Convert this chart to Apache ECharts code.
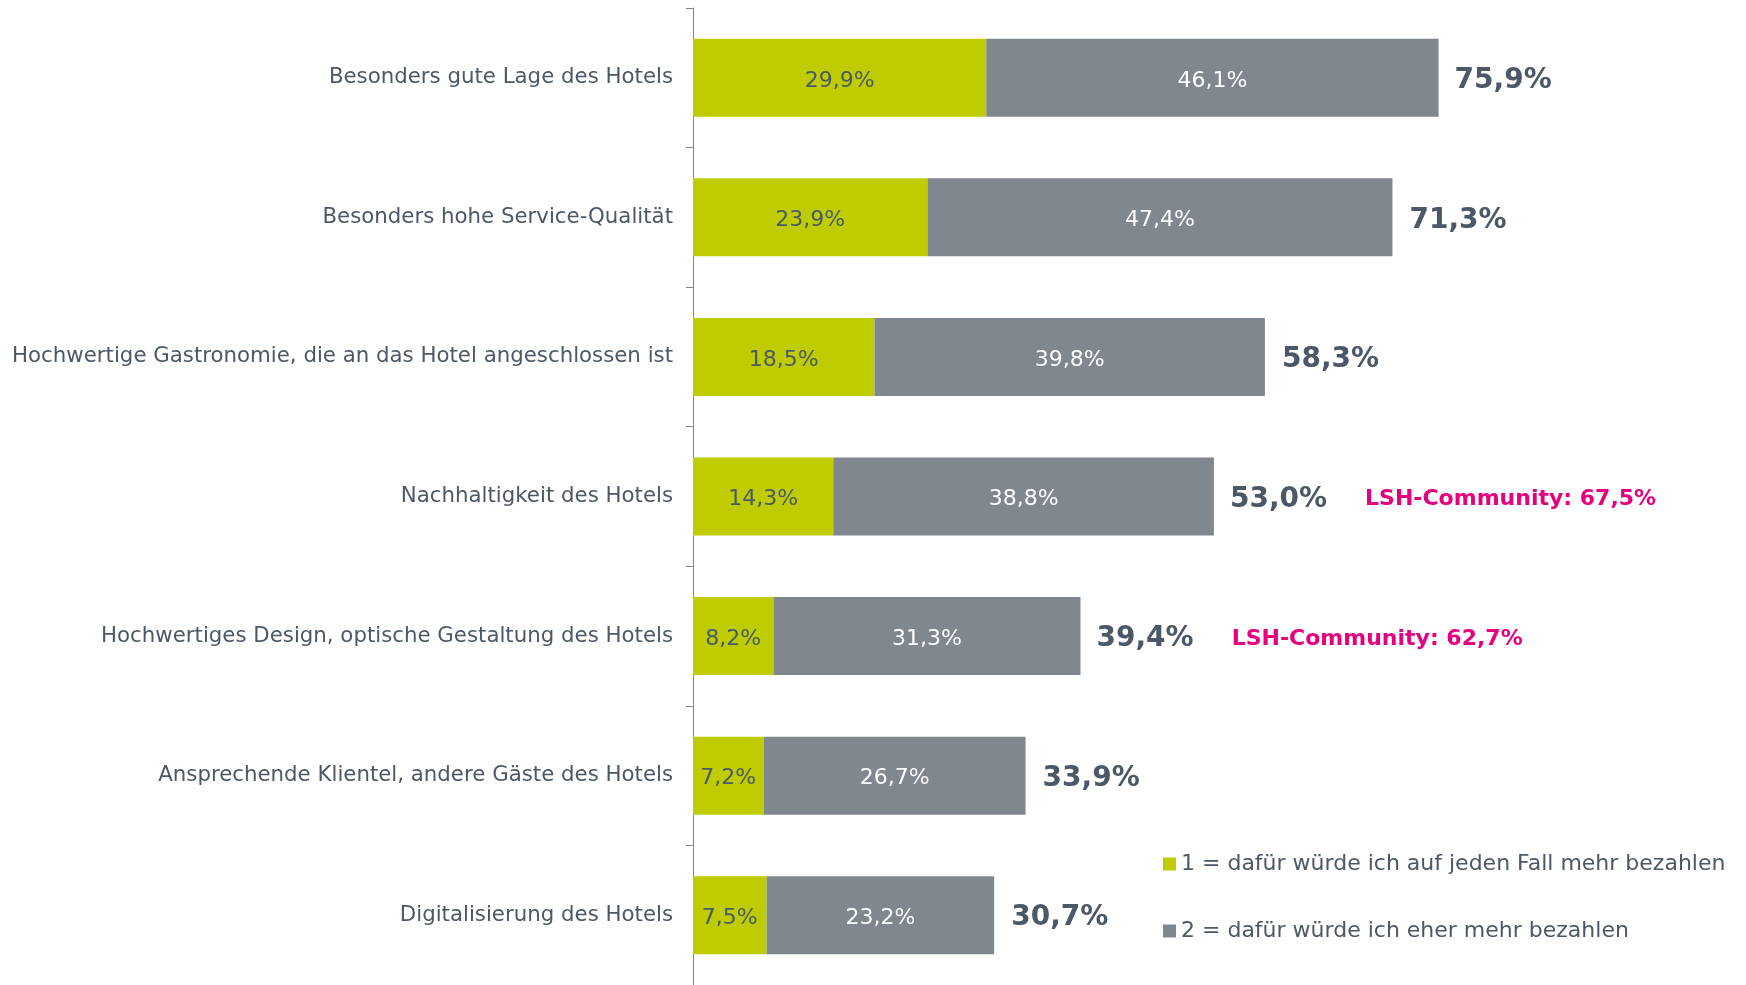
<!DOCTYPE html>
<html>
<head>
<meta charset="utf-8">
<script src="https://cdn.jsdelivr.net/npm/echarts@6/dist/echarts.min.js"></script>
<style>
  html, body { margin: 0; padding: 0; background: #fff; }
  #chart { width: 1746px; height: 985px; }
</style>
</head>
<body>
<div id="chart"></div>
<script>
const categories = [
  "Besonders gute Lage des Hotels",
  "Besonders hohe Service-Qualität",
  "Hochwertige Gastronomie, die an das Hotel angeschlossen ist",
  "Nachhaltigkeit des Hotels",
  "Hochwertiges Design, optische Gestaltung des Hotels",
  "Ansprechende Klientel, andere Gäste des Hotels",
  "Digitalisierung des Hotels"
]
const definitely = [29.9, 23.9, 18.5, 14.3, 8.2, 7.2, 7.5]
const rather = [46.1, 47.4, 39.8, 38.8, 31.3, 26.7, 23.2]
const totals = [75.9, 71.3, 58.3, 53.0, 39.4, 33.9, 30.7]
const community = [null, null, null, 67.5, 62.7, null, null]
const seriesNames = [
  "1 = dafür würde ich auf jeden Fall mehr bezahlen",
  "2 = dafür würde ich eher mehr bezahlen"
]

const font = "DejaVu Sans"
const textColor = "#4d5866"
const green = "#bfcd00"
const grey = "#80878f"
const pink = "#e6007e"

// deutsches Zahlenformat
const fmt = v => v.toFixed(1).replace(".", ",") + "%"

const chart = echarts.init(document.getElementById("chart"))

chart.setOption({
  animation: false,
  textStyle: { fontFamily: font },
  grid: {
    left: 693,
    top: 8,
    width: 981,
    height: 980
  },
  legend: {
    data: seriesNames,
    orient: "vertical",
    left: 1163,
    top: 853,
    padding: 0,
    icon: "rect",
    itemWidth: 13,
    itemHeight: 13,
    itemGap: 45,
    textStyle: { color: textColor, fontSize: 22, fontFamily: font }
  },
  xAxis: {
    type: "value",
    min: 0,
    max: 100,
    show: false
  },
  yAxis: {
    type: "category",
    data: categories,
    inverse: true,
    axisLine: { lineStyle: { color: grey, width: 1 } },
    axisTick: { show: true, length: 7, lineStyle: { color: grey } },
    axisLabel: { color: textColor, fontSize: 21.3, fontFamily: font, margin: 20, padding: [6, 0, 0, 0] }
  },
  series: [
    {
      name: seriesNames[0],
      type: "bar",
      stack: "sum",
      data: definitely,
      barWidth: 78,
      barGap: "-100%",
      itemStyle: { color: green },
      label: {
        show: true,
        position: "inside",
        offset: [0, 3],
        color: textColor,
        fontSize: 22,
        fontFamily: font,
        formatter: p => fmt(p.value)
      }
    },
    {
      name: seriesNames[1],
      type: "bar",
      stack: "sum",
      data: rather,
      barWidth: 78,
      barGap: "-100%",
      itemStyle: { color: grey },
      label: {
        show: true,
        position: "inside",
        offset: [0, 3],
        color: "#ffffff",
        fontSize: 22,
        fontFamily: font,
        formatter: p => fmt(p.value)
      }
    },
    {
      name: "Gesamt",
      type: "bar",
      data: totals,
      barWidth: 78,
      barGap: "-100%",
      z: 1,
      itemStyle: { color: "rgba(0,0,0,0)" },
      label: {
        show: true,
        position: "right",
        distance: 17,
        offset: [0, 3],
        formatter: p => {
          const c = community[p.dataIndex]
          let s = "{t|" + fmt(p.value) + "}"
          if (c != null) s += "{lsh|LSH-Community: " + fmt(c) + "}"
          return s
        },
        rich: {
          t: { color: textColor, fontSize: 28, fontWeight: "bold", fontFamily: font },
          lsh: { color: pink, fontSize: 22, fontWeight: "bold", fontFamily: font, padding: [0, 0, 0, 38] }
        }
      }
    }
  ]
})
</script>
</body>
</html>
